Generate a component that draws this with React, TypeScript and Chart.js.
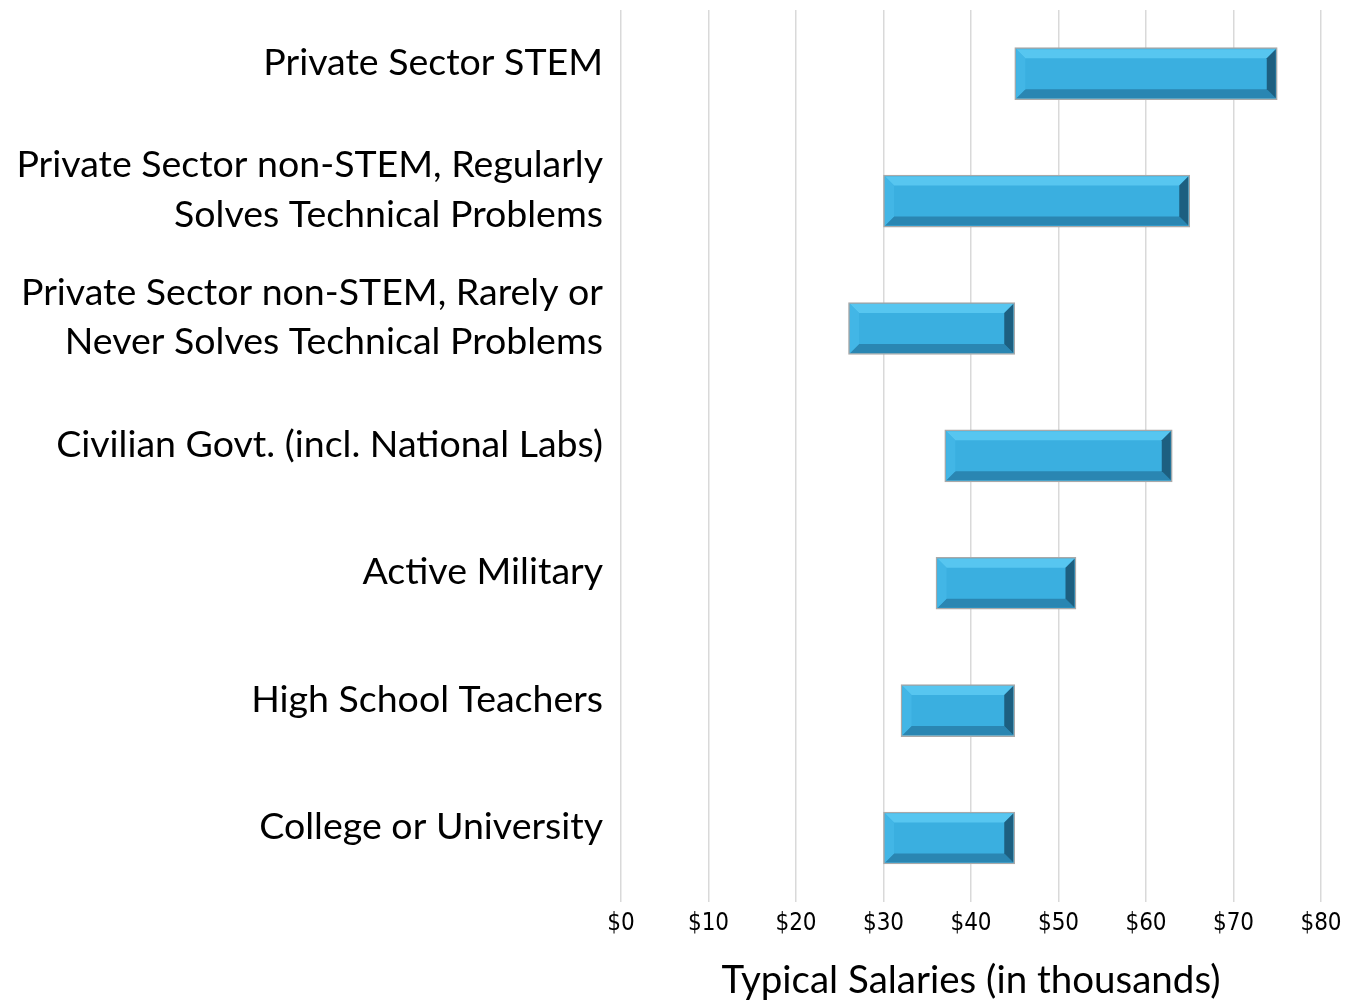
import React, { useEffect, useRef } from "react";
import { Chart, registerables } from "chart.js";

Chart.register(...registerables);

const categories: (string | string[])[] = [
  "Private Sector STEM",
  ["Private Sector non-STEM, Regularly", "Solves Technical Problems"],
  ["Private Sector non-STEM, Rarely or", "Never Solves Technical Problems"],
  "Civilian Govt. (incl. National Labs)",
  "Active Military",
  "High School Teachers",
  "College or University",
];
const lowSalaries = [45, 30, 26, 37, 36, 32, 30];
const highSalaries = [75, 65, 45, 63, 52, 45, 45];
const tickValues = [0, 10, 20, 30, 40, 50, 60, 70, 80];
const axisTitle = "Typical Salaries (in thousands)";

const bevelPlugin = {
  id: "bevel",
  afterDatasetsDraw(chart: any) {
    const ctx = chart.ctx;
    const meta = chart.getDatasetMeta(0);
    meta.data.forEach((bar: any) => {
      const p = bar.getProps(["x", "y", "base", "height"], true);
      const l = Math.min(p.x, p.base) + 1.5;
      const r = Math.max(p.x, p.base) - 1.5;
      const t = p.y - p.height / 2 + 1.5;
      const b = p.y + p.height / 2 - 1.5;
      const s = 9;
      ctx.save();
      const poly = (pts: number[][], color: string) => {
        ctx.beginPath();
        ctx.moveTo(pts[0][0], pts[0][1]);
        for (let i = 1; i < pts.length; i++) ctx.lineTo(pts[i][0], pts[i][1]);
        ctx.closePath();
        ctx.fillStyle = color;
        ctx.fill();
      };
      poly([[l, t], [r, t], [r - s, t + s], [l + s, t + s]], "#57c6f0");
      poly([[l, b], [r, b], [r - s, b - s], [l + s, b - s]], "#2a86b2");
      poly([[l, t], [l + s, t + s], [l + s, b - s], [l, b]], "#42b6e6");
      poly([[r, t], [r - s, t + s], [r - s, b - s], [r, b]], "#1d5f80");
      ctx.restore();
    });
  },
};

export default function App() {
  const ref = useRef<HTMLCanvasElement | null>(null);
  useEffect(() => {
    document.body.style.margin = "0";
    if (!ref.current) return;
    const chart = new Chart(ref.current, {
      type: "bar",
      data: {
        labels: categories,
        datasets: [
          {
            data: lowSalaries.map((lo, i) => [lo, highSalaries[i]]) as any,
            backgroundColor: "#3aafe0",
            borderColor: "#a9a9a9",
            borderWidth: 1.5,
            borderSkipped: false,
            barThickness: 52,
          },
        ],
      },
      options: {
        indexAxis: "y",
        animation: false,
        responsive: false,
        layout: { padding: { top: 10, right: 24, bottom: 0, left: 8 } },
        plugins: { legend: { display: false }, tooltip: { enabled: false } },
        scales: {
          x: {
            min: 0,
            max: 80,
            afterBuildTicks: (axis: any) => {
              axis.ticks = tickValues.map((v) => ({ value: v }));
            },
            afterFit: (axis: any) => {
              axis.paddingLeft = 0;
              axis.paddingRight = 0;
            },
            grid: { color: "#d9d9d9", lineWidth: 1.5, drawTicks: false },
            border: { display: false },
            ticks: {
              padding: 8,
              color: "#000",
              font: { family: "'Liberation Sans Narrow', 'DejaVu Sans Condensed', sans-serif", size: 24 },
              callback: (v: any) => "$" + v,
            },
            title: {
              display: true,
              text: axisTitle,
              color: "#000",
              font: { family: "Lato, sans-serif", size: 38.5, lineHeight: 1.0 },
              padding: { top: 15, bottom: 0 },
            },
          },
          y: {
            afterFit: (axis: any) => {
              axis.width = 613;
              axis.paddingTop = 0;
              axis.paddingBottom = 0;
            },
            grid: { display: false, drawTicks: false },
            border: { display: false },
            ticks: {
              padding: 18,
              color: "#000",
              labelOffset: -11,
              font: { family: "Lato, sans-serif", size: 37.5, lineHeight: 1.32 },
            },
          },
        },
      },
      plugins: [bevelPlugin],
    });
    return () => chart.destroy();
  }, []);
  return <canvas ref={ref} width={1345} height={1000} style={{ display: "block" }} />;
}
